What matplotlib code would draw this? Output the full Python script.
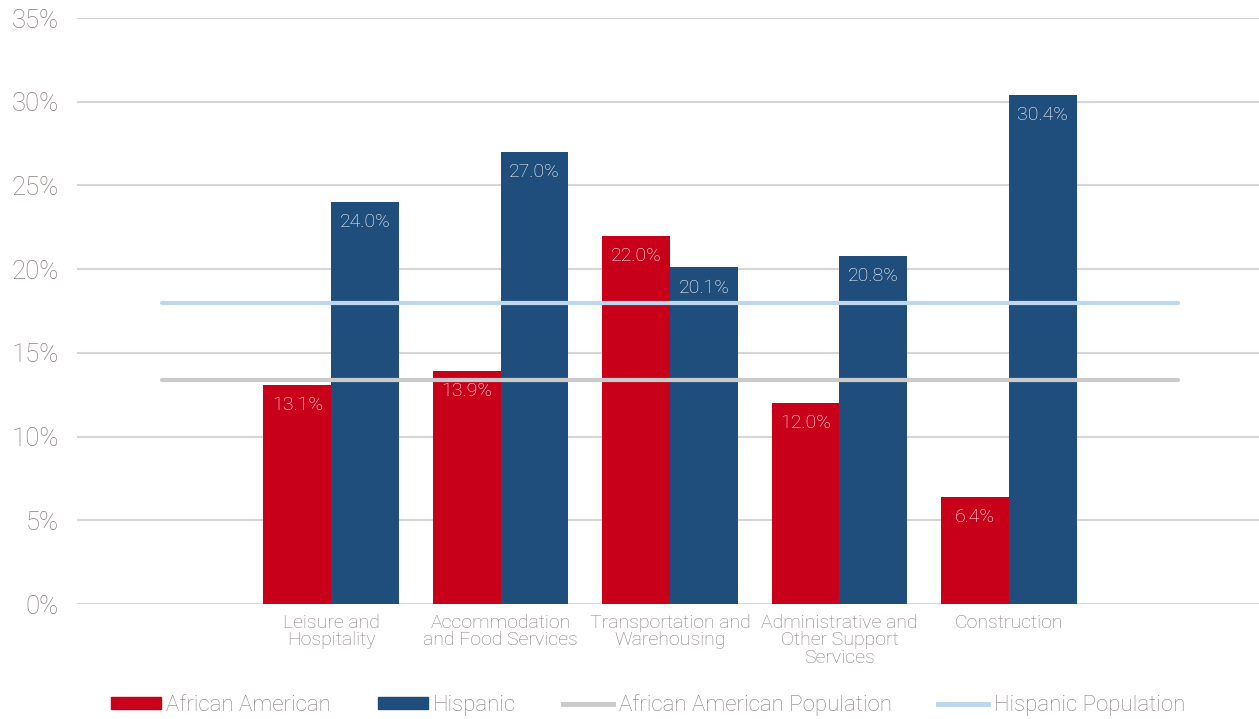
import matplotlib
matplotlib.use("Agg")
import matplotlib.pyplot as plt
from matplotlib.patches import Patch
from matplotlib.lines import Line2D

categories = ["Leisure and\nHospitality", "Accommodation\nand Food Services",
              "Transportation and\nWarehousing", "Administrative and\nOther Support\nServices",
              "Construction"]
african_american = [13.1, 13.9, 22.0, 12.0, 6.4]
hispanic = [24.0, 27.0, 20.1, 20.8, 30.4]
aa_population = [13.4] * 7
hisp_population = [18.0] * 7
yticks = [0, 5, 10, 15, 20, 25, 30, 35]

RED = "#C8001A"
BLUE = "#1F4E7C"
GRAY = "#CACACA"
LBLUE = "#BDD7EE"
TXT = "#8A7D7D"
GRID = "#DAD5D5"

plt.rcParams['font.family'] = ['Roboto', 'DejaVu Sans']
plt.rcParams['font.weight'] = 'light'

fig = plt.figure(figsize=(12.59, 7.19), dpi=100)
ax = fig.add_axes([77/1259, 115/719, 1186/1259, (604-18)/719])

n = len(categories)
xs = list(range(1, n + 1))
w = 0.4
ax.bar([x - w/2 for x in xs], african_american, width=w, color=RED, zorder=2)
ax.bar([x + w/2 for x in xs], hispanic, width=w, color=BLUE, zorder=2)

xl = list(range(0, n + 2))
ax.plot(xl, aa_population, color=GRAY, lw=3, solid_capstyle='round', zorder=3)
ax.plot(xl, hisp_population, color=LBLUE, lw=3, solid_capstyle='round', zorder=3)

for x, v in zip(xs, african_american):
    ax.text(x - w/2, v - 1.2, f"{v:.1f}%", ha='center', va='center', color='white', fontsize=14, zorder=4)
for x, v in zip(xs, hispanic):
    ax.text(x + w/2, v - 1.2, f"{v:.1f}%", ha='center', va='center', color='white', fontsize=14, zorder=4)

ax.set_xlim(-0.5, n + 1.5)
ax.set_ylim(0, 35)
ax.set_yticks(yticks)
ax.set_yticklabels([f"{t}%" for t in yticks], fontsize=18.5, color=TXT)
ax.set_xticks(xs)
ax.set_xticklabels(categories, fontsize=14, color=TXT, linespacing=0.98)
ax.tick_params(axis='both', length=0)
ax.tick_params(axis='y', pad=13)
ax.tick_params(axis='x', pad=7)
ax.grid(axis='y', color=GRID, lw=1.5, zorder=0)
ax.set_axisbelow(True)
for s in ax.spines.values():
    s.set_visible(False)

handles = [Patch(color=RED), Patch(color=BLUE),
           Line2D([0], [0], color=GRAY, lw=3.5), Line2D([0], [0], color=LBLUE, lw=3.5)]
labels = ["African American", "Hispanic", "African American Population", "Hispanic Population"]
leg = fig.legend(handles, labels, loc='center', bbox_to_anchor=(648/1259, 1 - 705/719), ncol=4,
                 frameon=False, fontsize=16, handlelength=2.25, handleheight=0.45,
                 columnspacing=2.1, handletextpad=0.25)
for t in leg.get_texts():
    t.set_color(TXT)

fig.savefig("out.png", dpi=100)
